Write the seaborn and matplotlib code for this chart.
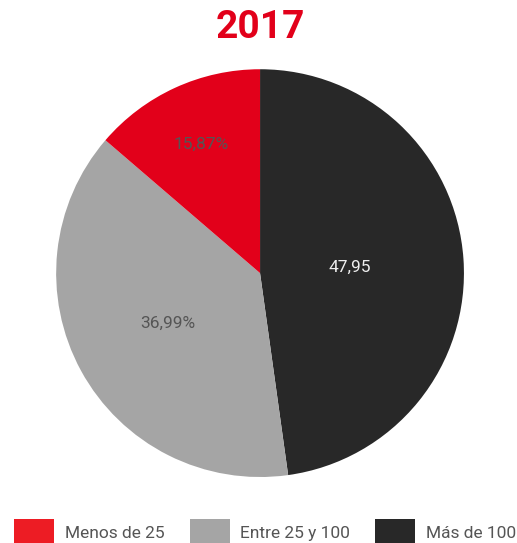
import matplotlib
matplotlib.use("Agg")
import matplotlib.pyplot as plt
import numpy as np
import seaborn as sns
from matplotlib.patches import Patch

# ─── DATA ────────────────────────────────────────────────────
categories = ["Más de 100", "Entre 25 y 100", "Menos de 25"]
# slice shares as drawn in the picture (measured from the wedge angles)
shares = [47.8, 38.5, 13.7]
value_labels = ["47,95", "36,99%", "15,87%"]
legend_order = ["Menos de 25", "Entre 25 y 100", "Más de 100"]
title = "2017"

# ─── STYLE ───────────────────────────────────────────────────
sns.set_theme(style="white")
plt.rcParams["font.family"] = ["Roboto", "DejaVu Sans"]

slice_colors = {"Más de 100": "#282828", "Entre 25 y 100": "#a5a5a5", "Menos de 25": "#e2001a"}
legend_colors = {"Más de 100": "#282828", "Entre 25 y 100": "#a5a5a5", "Menos de 25": "#ed1c24"}
text_colors = ["#eeeeee", "#555555", "#555555"]
label_radius = [0.44, 0.515, 0.695]

fig = plt.figure(figsize=(5.17, 5.43), dpi=100)
ax = fig.add_axes([0.1085, 0.1215, 0.789, 0.751])

wedges, _ = ax.pie(
    shares,
    colors=[slice_colors[c] for c in categories],
    startangle=90,
    counterclock=False,
    wedgeprops={"linewidth": 0},
    frame=False,
)
ax.set_xlim(-1, 1)
ax.set_ylim(-1, 1)
ax.set_aspect("equal")
ax.axis("off")

for w, lab, col, r in zip(wedges, value_labels, text_colors, label_radius):
    ang = np.deg2rad((w.theta1 + w.theta2) / 2)
    ax.text(r * np.cos(ang), r * np.sin(ang), lab, ha="center", va="center",
            color=col, fontsize=12.5)

fig.text(0.503, 0.95, title, ha="center", va="center", color="#e2001a",
         fontsize=28, fontweight="bold")

handles = [Patch(facecolor=legend_colors[c], edgecolor="none", label=c) for c in legend_order]
fig.legend(handles=handles, loc="lower center", bbox_to_anchor=(0.513, -0.004), ncol=3,
           frameon=False, fontsize=12.5, handlelength=2.3, handleheight=1.95,
           handletextpad=0.63, columnspacing=1.44, borderpad=0, borderaxespad=0,
           labelcolor="#555555")

plt.savefig("out.png", dpi=100)
plt.close()
